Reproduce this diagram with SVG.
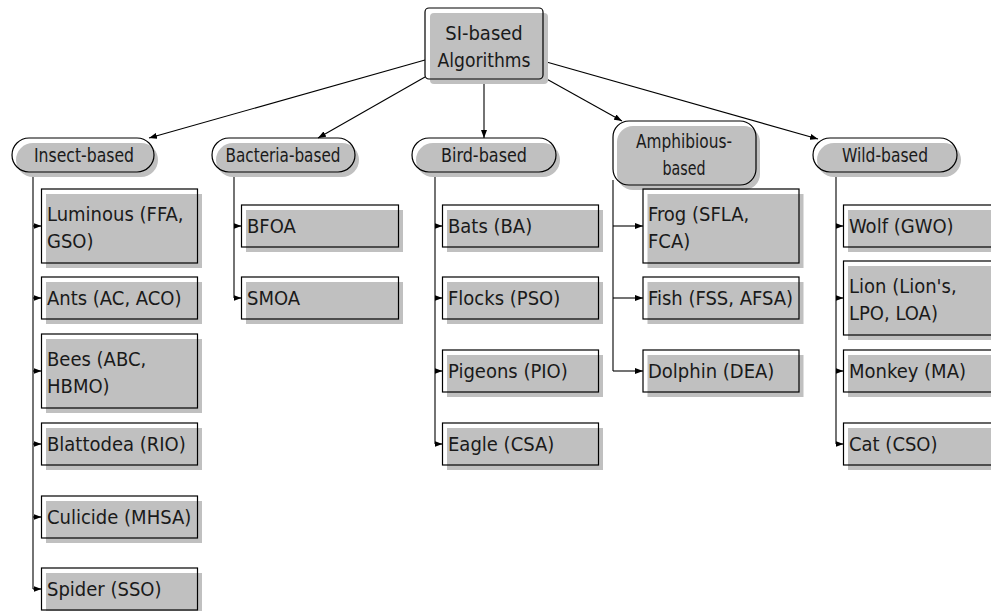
<svg xmlns="http://www.w3.org/2000/svg" width="991" height="611" viewBox="0 0 991 611">
<style>
.sh{fill:#c0c0c0;stroke:none}
.bx{fill:none;stroke:#000;stroke-width:1.2}
.t{font-family:"DejaVu Sans Condensed","DejaVu Sans","Liberation Sans",sans-serif;font-size:20px;fill:#1a1a1a}
.m{text-anchor:middle}
.c{fill:none;stroke:#000;stroke-width:1.1}
</style>
<defs>
<marker id="ah" viewBox="0 0 8 6" refX="8" refY="3" markerWidth="8" markerHeight="6" markerUnits="userSpaceOnUse" orient="auto"><path d="M0,0 L8,3 L0,6 z" fill="#000"/></marker>
</defs>
<rect width="991" height="611" fill="#fff"/>
<g id="connectors">
<path class="c" d="M425,60 L149,138" marker-end="url(#ah)"/>
<path class="c" d="M425,77 L318,138" marker-end="url(#ah)"/>
<path class="c" d="M484,79 L484,138" marker-end="url(#ah)"/>
<path class="c" d="M543,77 L622,121" marker-end="url(#ah)"/>
<path class="c" d="M543,61 L818,139" marker-end="url(#ah)"/>
<path class="c" d="M33,172 V589"/>
<path class="c" d="M33,226 H41.5" marker-end="url(#ah)"/>
<path class="c" d="M33,298 H41.5" marker-end="url(#ah)"/>
<path class="c" d="M33,371 H41.5" marker-end="url(#ah)"/>
<path class="c" d="M33,444 H41.5" marker-end="url(#ah)"/>
<path class="c" d="M33,517 H41.5" marker-end="url(#ah)"/>
<path class="c" d="M33,589 H41.5" marker-end="url(#ah)"/>
<path class="c" d="M234,172 V298"/>
<path class="c" d="M234,226 H241.5" marker-end="url(#ah)"/>
<path class="c" d="M234,298 H241.5" marker-end="url(#ah)"/>
<path class="c" d="M435,172 V444"/>
<path class="c" d="M435,226 H442.5" marker-end="url(#ah)"/>
<path class="c" d="M435,298 H442.5" marker-end="url(#ah)"/>
<path class="c" d="M435,371 H442.5" marker-end="url(#ah)"/>
<path class="c" d="M435,444 H442.5" marker-end="url(#ah)"/>
<path class="c" d="M613,180 V371"/>
<path class="c" d="M613,226 H643" marker-end="url(#ah)"/>
<path class="c" d="M613,298 H643" marker-end="url(#ah)"/>
<path class="c" d="M613,371 H643" marker-end="url(#ah)"/>
<path class="c" d="M836,172 V444"/>
<path class="c" d="M836,226 H843.5" marker-end="url(#ah)"/>
<path class="c" d="M836,298 H843.5" marker-end="url(#ah)"/>
<path class="c" d="M836,371 H843.5" marker-end="url(#ah)"/>
<path class="c" d="M836,444 H843.5" marker-end="url(#ah)"/>
</g>
<g id="root">
<rect class="sh" x="430" y="13" width="118" height="71" rx="4"/>
<rect class="bx" x="425" y="8" width="118" height="71" rx="4"/>
<text class="t m" x="484" y="40">SI-based</text>
<text class="t m" x="484" y="67" textLength="93" lengthAdjust="spacingAndGlyphs">Algorithms</text>
</g>
<g id="insect-based">
<rect class="sh" x="16" y="143" width="142" height="34" rx="17"/>
<rect class="bx" x="12" y="138" width="142" height="34" rx="17"/>
<text class="t m" x="84" y="162" textLength="100" lengthAdjust="spacingAndGlyphs">Insect-based</text>
</g>
<g id="bacteria-based">
<rect class="sh" x="216" y="143" width="143" height="34" rx="17"/>
<rect class="bx" x="212" y="138" width="143" height="34" rx="17"/>
<text class="t m" x="283" y="162" textLength="115" lengthAdjust="spacingAndGlyphs">Bacteria-based</text>
</g>
<g id="bird-based">
<rect class="sh" x="416" y="143" width="144" height="34" rx="17"/>
<rect class="bx" x="412" y="138" width="144" height="34" rx="17"/>
<text class="t m" x="484" y="162" textLength="86" lengthAdjust="spacingAndGlyphs">Bird-based</text>
</g>
<g id="amphibious-based">
<rect class="sh" x="617" y="126" width="143" height="64" rx="16"/>
<rect class="bx" x="613" y="121" width="143" height="64" rx="16"/>
<text class="t m" x="684" y="148" textLength="96" lengthAdjust="spacingAndGlyphs">Amphibious-</text>
<text class="t m" x="684" y="175" textLength="43" lengthAdjust="spacingAndGlyphs">based</text>
</g>
<g id="wild-based">
<rect class="sh" x="817" y="143" width="144" height="34" rx="17"/>
<rect class="bx" x="813" y="138" width="144" height="34" rx="17"/>
<text class="t m" x="885" y="162" textLength="86" lengthAdjust="spacingAndGlyphs">Wild-based</text>
</g>
<g id="luminous">
<rect class="sh" x="46" y="194" width="156" height="74"/>
<rect class="bx" x="41.5" y="189" width="156" height="74"/>
<text class="t" x="47" y="221">Luminous (FFA,</text>
<text class="t" x="47" y="248">GSO)</text>
</g>
<g id="ants">
<rect class="sh" x="46" y="282" width="156" height="42"/>
<rect class="bx" x="41.5" y="277" width="156" height="42"/>
<text class="t" x="47" y="305">Ants (AC, ACO)</text>
</g>
<g id="bees">
<rect class="sh" x="46" y="339" width="156" height="74"/>
<rect class="bx" x="41.5" y="334" width="156" height="74"/>
<text class="t" x="47" y="366">Bees (ABC,</text>
<text class="t" x="47" y="393">HBMO)</text>
</g>
<g id="blattodea">
<rect class="sh" x="46" y="428" width="156" height="42"/>
<rect class="bx" x="41.5" y="423" width="156" height="42"/>
<text class="t" x="47" y="451">Blattodea (RIO)</text>
</g>
<g id="culicide">
<rect class="sh" x="46" y="501" width="156" height="42"/>
<rect class="bx" x="41.5" y="496" width="156" height="42"/>
<text class="t" x="47" y="524">Culicide (MHSA)</text>
</g>
<g id="spider">
<rect class="sh" x="46" y="573" width="156" height="42"/>
<rect class="bx" x="41.5" y="568" width="156" height="42"/>
<text class="t" x="47" y="596">Spider (SSO)</text>
</g>
<g id="bfoa">
<rect class="sh" x="246" y="210" width="157" height="42"/>
<rect class="bx" x="241.5" y="205" width="157" height="42"/>
<text class="t" x="247" y="233">BFOA</text>
</g>
<g id="smoa">
<rect class="sh" x="246" y="282" width="157" height="42"/>
<rect class="bx" x="241.5" y="277" width="157" height="42"/>
<text class="t" x="247" y="305">SMOA</text>
</g>
<g id="bats">
<rect class="sh" x="447" y="210" width="156" height="42"/>
<rect class="bx" x="442.5" y="205" width="156" height="42"/>
<text class="t" x="448" y="233">Bats (BA)</text>
</g>
<g id="flocks">
<rect class="sh" x="447" y="282" width="156" height="42"/>
<rect class="bx" x="442.5" y="277" width="156" height="42"/>
<text class="t" x="448" y="305">Flocks (PSO)</text>
</g>
<g id="pigeons">
<rect class="sh" x="447" y="355" width="156" height="42"/>
<rect class="bx" x="442.5" y="350" width="156" height="42"/>
<text class="t" x="448" y="378">Pigeons (PIO)</text>
</g>
<g id="eagle">
<rect class="sh" x="447" y="428" width="156" height="42"/>
<rect class="bx" x="442.5" y="423" width="156" height="42"/>
<text class="t" x="448" y="451">Eagle (CSA)</text>
</g>
<g id="frog">
<rect class="sh" x="647.5" y="194" width="156" height="74"/>
<rect class="bx" x="643" y="189" width="156" height="74"/>
<text class="t" x="648" y="221">Frog (SFLA,</text>
<text class="t" x="648" y="248">FCA)</text>
</g>
<g id="fish">
<rect class="sh" x="647.5" y="282" width="156" height="42"/>
<rect class="bx" x="643" y="277" width="156" height="42"/>
<text class="t" x="648" y="305">Fish (FSS, AFSA)</text>
</g>
<g id="dolphin">
<rect class="sh" x="647.5" y="355" width="156" height="42"/>
<rect class="bx" x="643" y="350" width="156" height="42"/>
<text class="t" x="648" y="378">Dolphin (DEA)</text>
</g>
<g id="wolf">
<rect class="sh" x="848" y="210" width="156" height="42"/>
<rect class="bx" x="843.5" y="205" width="156" height="42"/>
<text class="t" x="849" y="233">Wolf (GWO)</text>
</g>
<g id="lion">
<rect class="sh" x="848" y="266" width="156" height="74"/>
<rect class="bx" x="843.5" y="261" width="156" height="74"/>
<text class="t" x="849" y="293">Lion (Lion's,</text>
<text class="t" x="849" y="320">LPO, LOA)</text>
</g>
<g id="monkey">
<rect class="sh" x="848" y="355" width="156" height="42"/>
<rect class="bx" x="843.5" y="350" width="156" height="42"/>
<text class="t" x="849" y="378">Monkey (MA)</text>
</g>
<g id="cat">
<rect class="sh" x="848" y="428" width="156" height="42"/>
<rect class="bx" x="843.5" y="423" width="156" height="42"/>
<text class="t" x="849" y="451">Cat (CSO)</text>
</g>
</svg>
